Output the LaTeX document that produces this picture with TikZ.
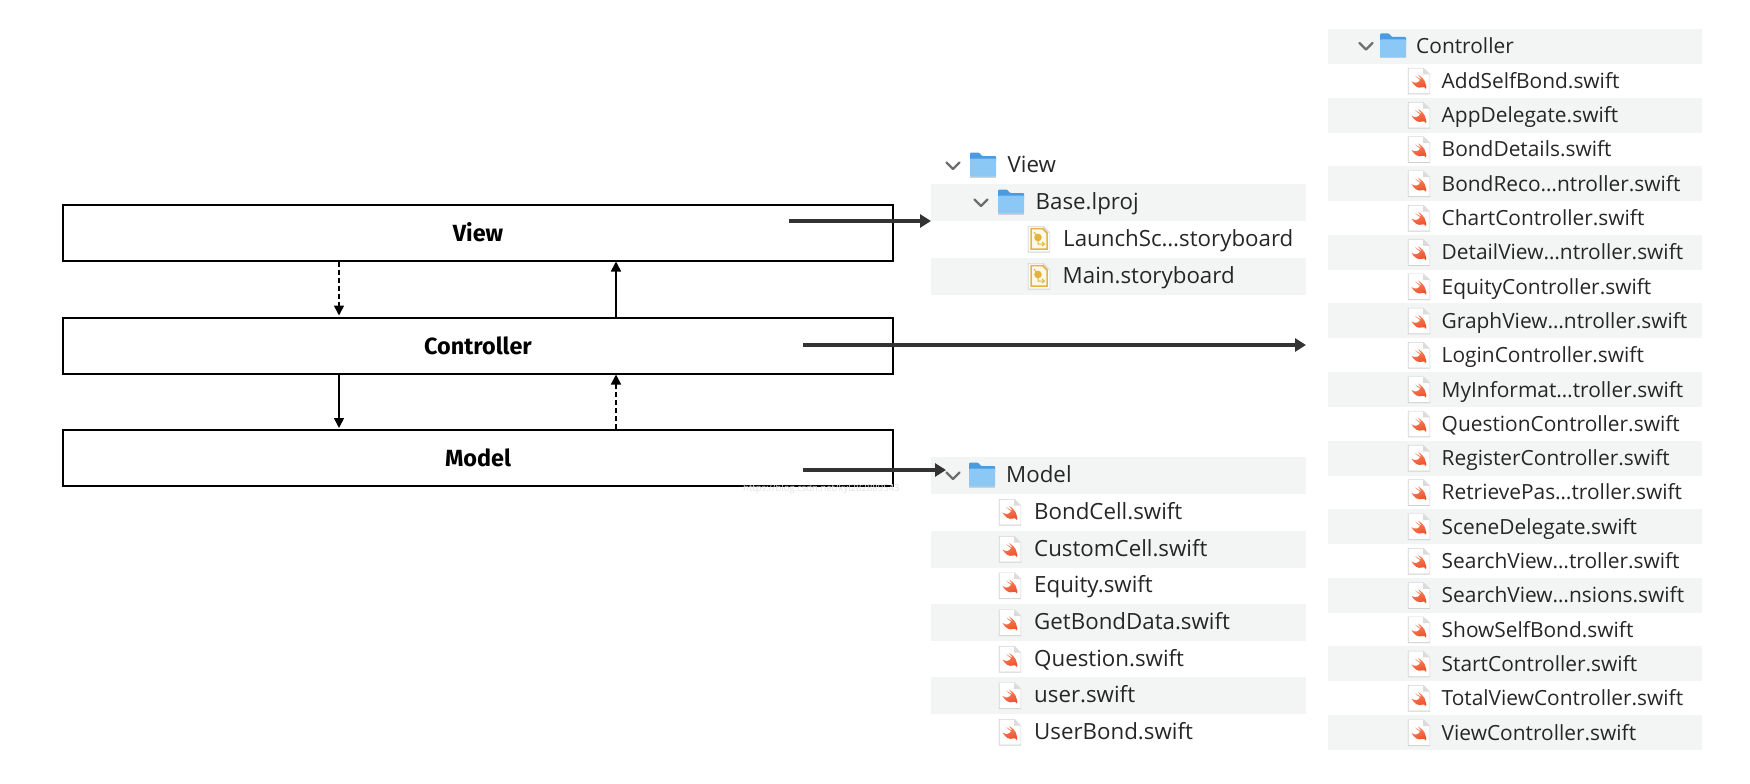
\documentclass[tikz,border=0pt]{standalone}
\usepackage{fontspec}
\setmainfont{Open Sans}
\newfontfamily\boxfont{Fira Sans}
\usetikzlibrary{arrows.meta,calc}
\definecolor{rowbg}{HTML}{F3F5F5}
\definecolor{rowtxt}{HTML}{262626}
\definecolor{arrowdark}{HTML}{333333}
\definecolor{folderfill}{HTML}{8CC8F5}
\definecolor{foldertop}{HTML}{4A9BE0}
\definecolor{chev}{HTML}{6E6E6E}
\definecolor{storyc}{HTML}{E3B341}
\definecolor{storybg}{HTML}{FDF8E8}
\definecolor{swiftc}{HTML}{EF4F2B}
\definecolor{swiftl}{HTML}{F6855F}
\tikzset{
  layerbox/.style={draw=black,line width=2pt,minimum width=830pt,minimum height=56pt,inner sep=0pt,font=\boxfont\bfseries\fontsize{23.4}{27}\selectfont},
  rowband/.style={fill=rowbg,draw=none,inner sep=0pt,minimum height=#1,anchor=west},
  rowlabel/.style={anchor=base west,inner sep=0pt,text=rowtxt,font=\fontsize{22.3}{25}\selectfont},
  rowlabelc/.style={rowlabel,font=\fontsize{20.9}{25}\selectfont},
  mvcarrow/.style={line width=1.6pt,-{Triangle[length=10pt,width=10pt]}},
  mvcdash/.style={mvcarrow,dash pattern=on 5pt off 3pt},
  panelarrow/.style={draw=arrowdark,fill=arrowdark,line width=4pt,-{Triangle[length=11pt,width=13pt]}},
  folderico/.pic={
    \fill[black!18] (-13,-6) rectangle (13,12.5);
    \fill[foldertop,rounded corners=1pt] (-13,-12.5) -- (-4,-12.5) -- (-1,-9) -- (13,-9) -- (13,-2) -- (-13,-2) -- cycle;
    \fill[folderfill,rounded corners=1pt] (-13,-6.5) rectangle (13,11.5);
    \draw[foldertop!60!white,line width=.6pt] (-13,8.5) -- (13,8.5);
  },
  chevico/.pic={\draw[chev,line width=2.2pt,line cap=round,line join=round] (-6.5,-3.5) -- (0,3) -- (6.5,-3.5);},
  pageico/.pic={
    \fill[black!18] (-11.2,-13) -- (4.5,-13) -- (11.2,-6.5) -- (11.2,13.5) -- (-11.2,13.5) -- cycle;
    \fill[white] (-10.5,-12.5) -- (4,-12.5) -- (10.5,-6.5) -- (10.5,12.5) -- (-10.5,12.5) -- cycle;
    \fill[black!14] (4,-12.5) -- (10.5,-6.5) -- (4,-6.5) -- cycle;
  },
  swiftico/.pic={
    \pic {pageico};
    \shade[bottom color=swiftc,top color=swiftl,shading angle=20] (-7.5,0.5) .. controls (-4,3) and (0,2) .. (1,-1) .. controls (-1,-2) and (-3,-4) .. (-4,-5)
      .. controls (-1,-3) and (1,-2) .. (3,-1) .. controls (1,-3) and (0,-5) .. (-1,-6)
      .. controls (2,-4.5) and (6,-1) .. (6.5,3) .. controls (7.5,5) and (7.5,7) .. (7,8)
      .. controls (6,6) and (4.5,6) .. (3,6.5) .. controls (-1,8) and (-5,5) .. (-7.5,0.5) -- cycle;
  },
  storyico/.pic={
    \pic {pageico};
    \draw[storyc,fill=storybg,line width=1.5pt] (-8,-10.5) -- (3.5,-10.5) -- (8,-6) -- (8,10) -- (-8,10) -- cycle;
    \fill[storyc] (-1,-1.5) circle (3.8pt);
    \draw[storyc,line width=1pt] (-5,-7) -- (-1,-1.5) -- (-1,5) -- (5,5);
    \draw[storyc,line width=1pt] (3,3) -- (5.5,5) -- (3,7);
  }
}
\begin{document}
\begin{tikzpicture}[x=1pt,y=-1pt]
\useasboundingbox (0,0) rectangle (1750,784);
% --- layer boxes
\node[layerbox] (view) at (478,232.5) {View};
\node[layerbox] (ctrl) at (478,345.5) {Controller};
\node[layerbox] (model) at (478,458) {Model};
% --- watermark
\node[inner sep=0pt,anchor=base west,text=black!12,font=\fontsize{9.5}{11}\selectfont] (wm) at (743,491) {https://blog.csdn.net/kyl282889543};
% --- view panel
\node[rowband=37pt,minimum width=375pt] (vrowbase) at (931,202.5) {};
\node[rowband=37pt,minimum width=375pt] (vrowmain) at (931,276.5) {};
\pic at (953,166) {chevico};
\pic at (983,165) {folderico};
\node[rowlabel] (vview) at (1007.5,172.5) {View};
\pic at (981,203) {chevico};
\pic at (1011,202) {folderico};
\node[rowlabel] (vbase) at (1035.5,209.5) {Base.lproj};
\pic at (1039,239) {storyico};
\node[rowlabel] (vlaunch) at (1063,246.5) {LaunchSc…storyboard};
\pic at (1039,276) {storyico};
\node[rowlabel] (vmain) at (1062.5,283.5) {Main.storyboard};
% --- model panel
\foreach \i/\yy in {0/475.5,2/549,4/622.5,6/695.5}
  \node[rowband=37pt,minimum width=375pt] (mband\i) at (931,\yy) {};
\pic at (953,476) {chevico};
\pic at (982,475) {folderico};
\node[rowlabel] (mtitle) at (1006,482.5) {Model};
\foreach \i/\yy/\t in {1/512/BondCell.swift,2/549/CustomCell.swift,3/585.5/Equity.swift,4/622.5/GetBondData.swift,5/659/Question.swift,6/695.5/user.swift,7/732/UserBond.swift}{
  \pic at (1010,\yy) {swiftico};
  \node[rowlabel] (mrow\i) at (1034,\yy+7) {\t};
}
% --- controller panel
\foreach \i in {0,2,...,20}
  \node[rowband=35pt,minimum width=374pt] (cband\i) at (1328,46.5+34.3*\i) {};
\pic at (1366,46.5) {chevico};
\pic at (1393,46) {folderico};
\node[rowlabelc] (ctitle) at (1416,54) {Controller};
\foreach \i/\t in {1/AddSelfBond.swift,2/AppDelegate.swift,3/BondDetails.swift,4/BondReco…ntroller.swift,5/ChartController.swift,6/DetailView…ntroller.swift,7/EquityController.swift,8/GraphView…ntroller.swift,9/LoginController.swift,10/MyInformat…troller.swift,11/QuestionController.swift,12/RegisterController.swift,13/RetrievePas…troller.swift,14/SceneDelegate.swift,15/SearchView…troller.swift,16/SearchView…nsions.swift,17/ShowSelfBond.swift,18/StartController.swift,19/TotalViewController.swift,20/ViewController.swift}{
  \pic at (1419,46.5+34.3*\i) {swiftico};
  \node[rowlabelc] (crow\i) at (1441.5,54+34.3*\i) {\t};
}
% --- connectors between layers
\coordinate (xl) at (339,0);
\coordinate (xr) at (616,0);
\draw[mvcdash] (view.south -| xl) -- ($(ctrl.north -| xl)+(0,-1)$);
\draw[mvcarrow] (ctrl.north -| xr) -- (view.south -| xr);
\draw[mvcarrow] (ctrl.south -| xl) -- ($(model.north -| xl)+(0,-1)$);
\draw[mvcdash] (model.north -| xr) -- (ctrl.south -| xr);
% --- connectors to panels
\coordinate (vstart) at (789,221);
\coordinate (cstart) at (803,345);
\coordinate (cend) at (1306,345);
\coordinate (mstart) at (803,470);
\coordinate (mend) at (946,470);
\draw[panelarrow] (vstart) -- (vstart -| vrowbase.west);
\draw[panelarrow] (cstart) -- (cend);
\draw[panelarrow] (mstart) -- (mend);
\end{tikzpicture}
\end{document}
